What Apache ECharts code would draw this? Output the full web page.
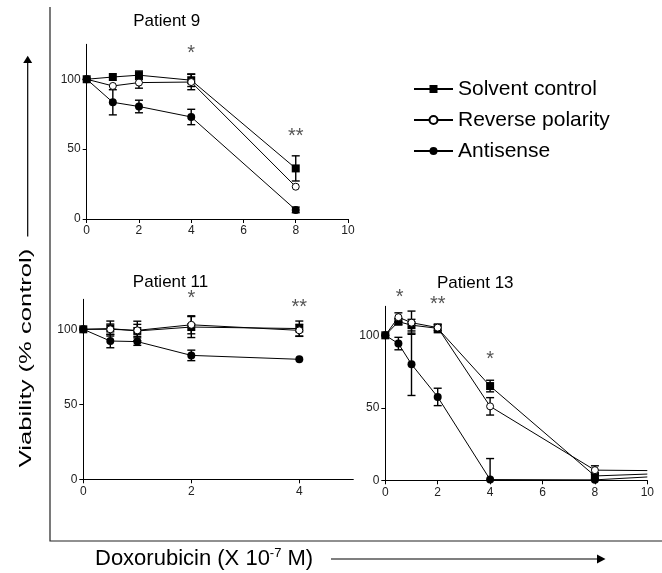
<!DOCTYPE html>
<html>
<head>
<meta charset="utf-8">
<script src="https://cdn.jsdelivr.net/npm/echarts@6/dist/echarts.min.js"></script>
<style>
  html, body { margin: 0; padding: 0; background: #fff; }
  #chart { width: 662px; height: 573px; }
</style>
</head>
<body>
<div id="chart"></div>
<script>
// Doxorubicin doses (x 10^-7 M) and viability (% control), mean and error
const doses9 = [0, 1, 2, 4, 8];
const solvent9 = [100, 101.6, 102.9, 99.3, 36.2];
const solvent9Err = [0, 0, 3, 4.5, 9];
const reverse9 = [100, 95.2, 97.6, 98, 23.1];
const reverse9Err = [0, 0, 4, 5.5, 0];
const antisense9 = [100, 83.5, 80.5, 73, 6.5];
const antisense9Err = [0, 9, 4.5, 5.5, 2];

const doses11 = [0, 0.5, 1, 2, 4];
const solvent11 = [100, 100.5, 98.9, 101.5, 100.5];
const solvent11Err = [0, 5, 6.5, 7, 5];
const reverse11 = [100, 100, 99.3, 103, 99.3];
const reverse11Err = [0, 3.5, 4, 6, 4];
const antisense11 = [100, 92.2, 91.8, 82.6, 80];
const antisense11Err = [0, 4.5, 2.5, 3.5, 0];

const doses13 = [0, 0.5, 1, 2, 4, 8, 10];
const solvent13 = [100, 109.4, 107, 104.8, 65, 3, 4.3];
const solvent13Err = [0, 2, 4, 3, 4, 2, 0];
const reverse13 = [100, 112.5, 108.7, 105.3, 51, 7, 6.7];
const reverse13Err = [0, 3, 8, 2, 6, 3, 0];
const antisense13 = [100, 94.3, 80, 57.5, 0.5, 0.3, 2.3];
const antisense13Err = [0, 4.3, 21.5, 6, 14.5, 0, 0];
const unmarkedDose13 = 10;

// Significance marks
const sig9Dose = [4, 8];
const sig9Level = [121, 62];
const sig9Mark = ['*', '**'];
const sig11Dose = [2, 4];
const sig11Level = [123, 117];
const sig11Mark = ['*', '**'];
const sig13Dose = [0.55, 2, 4];
const sig13Level = [129, 124, 86];
const sig13Mark = ['*', '**', '*'];

// Axis settings
const xTicks9 = [0, 2, 4, 6, 8, 10];
const xTicks11 = [0, 2, 4];
const xTicks13 = [0, 2, 4, 6, 8, 10];
const yTicks = [0, 50, 100];

const seriesNames = ['Solvent control', 'Reverse polarity', 'Antisense'];

const FONT = "'Liberation Sans', Arial, Helvetica, sans-serif";

const markerStyles = {
  'Solvent control': { symbol: 'rect', size: 8, fill: '#000', border: 0 },
  'Reverse polarity': { symbol: 'circle', size: 7, fill: '#fff', border: 1 },
  'Antisense': { symbol: 'circle', size: 8, fill: '#000', border: 0 }
};

function curve(name, doses, values, axisIdx, unmarked) {
  const m = markerStyles[name];
  return {
    type: 'line',
    name: name,
    xAxisIndex: axisIdx,
    yAxisIndex: axisIdx,
    z: 4,
    data: doses.map((d, i) => d === unmarked
      ? { value: [d, values[i]], symbol: 'none' }
      : [d, values[i]]),
    symbol: m.symbol,
    symbolSize: m.size,
    showAllSymbol: true,
    lineStyle: { color: '#000', width: 1 },
    itemStyle: { color: m.fill, borderColor: '#000', borderWidth: m.border },
    emphasis: { disabled: true },
    silent: true
  };
}

function errorBars(doses, values, errs, axisIdx) {
  const rows = [];
  doses.forEach((d, i) => {
    if (errs[i] > 0) rows.push([d, Math.max(0, values[i] - errs[i]), values[i] + errs[i]]);
  });
  return {
    type: 'custom',
    xAxisIndex: axisIdx,
    yAxisIndex: axisIdx,
    z: 3,
    silent: true,
    data: rows,
    encode: { x: 0, y: [1, 2] },
    renderItem: function (params, api) {
      const x = api.value(0);
      const lowVal = api.value(1);
      const lo = api.coord([x, lowVal]);
      const hi = api.coord([x, api.value(2)]);
      const w = 4;
      const st = { stroke: '#000', lineWidth: 1.4 };
      const children = [
        { type: 'line', shape: { x1: lo[0], y1: lo[1], x2: hi[0], y2: hi[1] }, style: st },
        { type: 'line', shape: { x1: hi[0] - w, y1: hi[1], x2: hi[0] + w, y2: hi[1] }, style: st }
      ];
      if (lowVal > 0) {
        children.push({ type: 'line', shape: { x1: lo[0] - w, y1: lo[1], x2: lo[0] + w, y2: lo[1] }, style: st });
      }
      return { type: 'group', children: children };
    }
  };
}

function sigMarks(doses, levels, marks, axisIdx) {
  return {
    type: 'custom',
    xAxisIndex: axisIdx,
    yAxisIndex: axisIdx,
    z: 5,
    silent: true,
    data: doses.map((d, i) => [d, levels[i], i]),
    encode: { x: 0, y: 1 },
    renderItem: function (params, api) {
      const p = api.coord([api.value(0), api.value(1)]);
      return {
        type: 'text',
        x: p[0],
        y: p[1] + 4,
        style: {
          text: marks[api.value(2)],
          fontSize: 20,
          fontFamily: FONT,
          fill: '#555',
          align: 'center',
          verticalAlign: 'middle'
        }
      };
    }
  };
}

function xAxis(gridIdx, max, ticks) {
  return {
    type: 'value', gridIndex: gridIdx, min: 0, max: max,
    axisLine: { show: true, onZero: false, lineStyle: { color: '#000', width: 1 } },
    axisTick: { show: true, length: 4, customValues: ticks, lineStyle: { color: '#000' } },
    axisLabel: { customValues: ticks, margin: 6, fontSize: 12, color: '#222', fontFamily: FONT },
    splitLine: { show: false }
  };
}

function yAxis(gridIdx, max) {
  return {
    type: 'value', gridIndex: gridIdx, min: 0, max: max,
    axisLine: { show: true, onZero: false, lineStyle: { color: '#000', width: 1 } },
    axisTick: { show: true, length: 4, customValues: yTicks, lineStyle: { color: '#000' } },
    axisLabel: { customValues: yTicks, margin: 6, fontSize: 12, color: '#222', fontFamily: FONT },
    splitLine: { show: false }
  };
}

const series = [
  errorBars(doses9, solvent9, solvent9Err, 0),
  errorBars(doses9, reverse9, reverse9Err, 0),
  errorBars(doses9, antisense9, antisense9Err, 0),
  curve('Solvent control', doses9, solvent9, 0),
  curve('Reverse polarity', doses9, reverse9, 0),
  curve('Antisense', doses9, antisense9, 0),
  sigMarks(sig9Dose, sig9Level, sig9Mark, 0),

  errorBars(doses11, solvent11, solvent11Err, 1),
  errorBars(doses11, reverse11, reverse11Err, 1),
  errorBars(doses11, antisense11, antisense11Err, 1),
  curve('Solvent control', doses11, solvent11, 1),
  curve('Reverse polarity', doses11, reverse11, 1),
  curve('Antisense', doses11, antisense11, 1),
  sigMarks(sig11Dose, sig11Level, sig11Mark, 1),

  errorBars(doses13, solvent13, solvent13Err, 2),
  errorBars(doses13, reverse13, reverse13Err, 2),
  errorBars(doses13, antisense13, antisense13Err, 2),
  curve('Solvent control', doses13, solvent13, 2, unmarkedDose13),
  curve('Reverse polarity', doses13, reverse13, 2, unmarkedDose13),
  curve('Antisense', doses13, antisense13, 2, unmarkedDose13),
  sigMarks(sig13Dose, sig13Level, sig13Mark, 2)
];

const chart = echarts.init(document.getElementById('chart'), null, { renderer: 'canvas' });

chart.setOption({
  animation: false,
  backgroundColor: '#fff',
  textStyle: { fontFamily: FONT },
  grid: [
    { left: 86.7, top: 44.3, width: 261.3, height: 174.7 },
    { left: 83.3, top: 299.3, width: 270, height: 180 },
    { left: 385.3, top: 306.3, width: 262, height: 174 }
  ],
  xAxis: [xAxis(0, 10, xTicks9), xAxis(1, 5, xTicks11), xAxis(2, 10, xTicks13)],
  yAxis: [yAxis(0, 125), yAxis(1, 120), yAxis(2, 120)],
  legend: {
    data: seriesNames,
    orient: 'vertical',
    left: 408,
    top: 73.5,
    itemWidth: 39,
    itemHeight: 10,
    itemGap: 10,
    selectedMode: false,
    lineStyle: { width: 2, color: '#000' },
    textStyle: { fontSize: 21, color: '#000', fontFamily: FONT }
  },
  graphic: [
    // L-shaped frame around the panels
    { type: 'polyline', silent: true, shape: { points: [[50, 7], [50, 541], [662, 541]] },
      style: { stroke: '#222', lineWidth: 1.2, fill: null } },
    // vertical axis caption and arrow
    { type: 'text', silent: true, x: 26.5, y: 358, rotation: Math.PI / 2, scaleX: 1.6,
      style: { text: 'Viability (% control)', fontSize: 16, fontFamily: FONT, fill: '#000',
               align: 'center', verticalAlign: 'middle' } },
    { type: 'line', silent: true, shape: { x1: 27.7, y1: 236.5, x2: 27.7, y2: 62 },
      style: { stroke: '#000', lineWidth: 1.2 } },
    { type: 'polygon', silent: true, shape: { points: [[27.7, 55.7], [23.2, 63], [32.2, 63]] },
      style: { fill: '#000' } },
    // horizontal axis caption and arrow
    { type: 'text', silent: true, x: 95, y: 559,
      style: { text: '{n|Doxorubicin (X 10}{s|-7}{n| M)}', fontFamily: FONT, fill: '#000',
               align: 'left', verticalAlign: 'middle',
               rich: { n: { fontSize: 22, fontFamily: FONT, fill: '#000', lineHeight: 24 },
                       s: { fontSize: 13, fontFamily: FONT, fill: '#000', verticalAlign: 'top', lineHeight: 24 } } } },
    { type: 'line', silent: true, shape: { x1: 331, y1: 559, x2: 598, y2: 559 },
      style: { stroke: '#000', lineWidth: 1.2 } },
    { type: 'polygon', silent: true, shape: { points: [[605.5, 559], [597, 554.4], [597, 563.6]] },
      style: { fill: '#000' } },
    // panel titles
    { type: 'text', silent: true, x: 166.7, y: 21.7,
      style: { text: 'Patient 9', fontSize: 17, fontFamily: FONT, fill: '#000', align: 'center', verticalAlign: 'middle' } },
    { type: 'text', silent: true, x: 170.5, y: 282.7,
      style: { text: 'Patient 11', fontSize: 17, fontFamily: FONT, fill: '#000', align: 'center', verticalAlign: 'middle' } },
    { type: 'text', silent: true, x: 475.3, y: 283.3,
      style: { text: 'Patient 13', fontSize: 17, fontFamily: FONT, fill: '#000', align: 'center', verticalAlign: 'middle' } }
  ],
  series: series
});
</script>
</body>
</html>
